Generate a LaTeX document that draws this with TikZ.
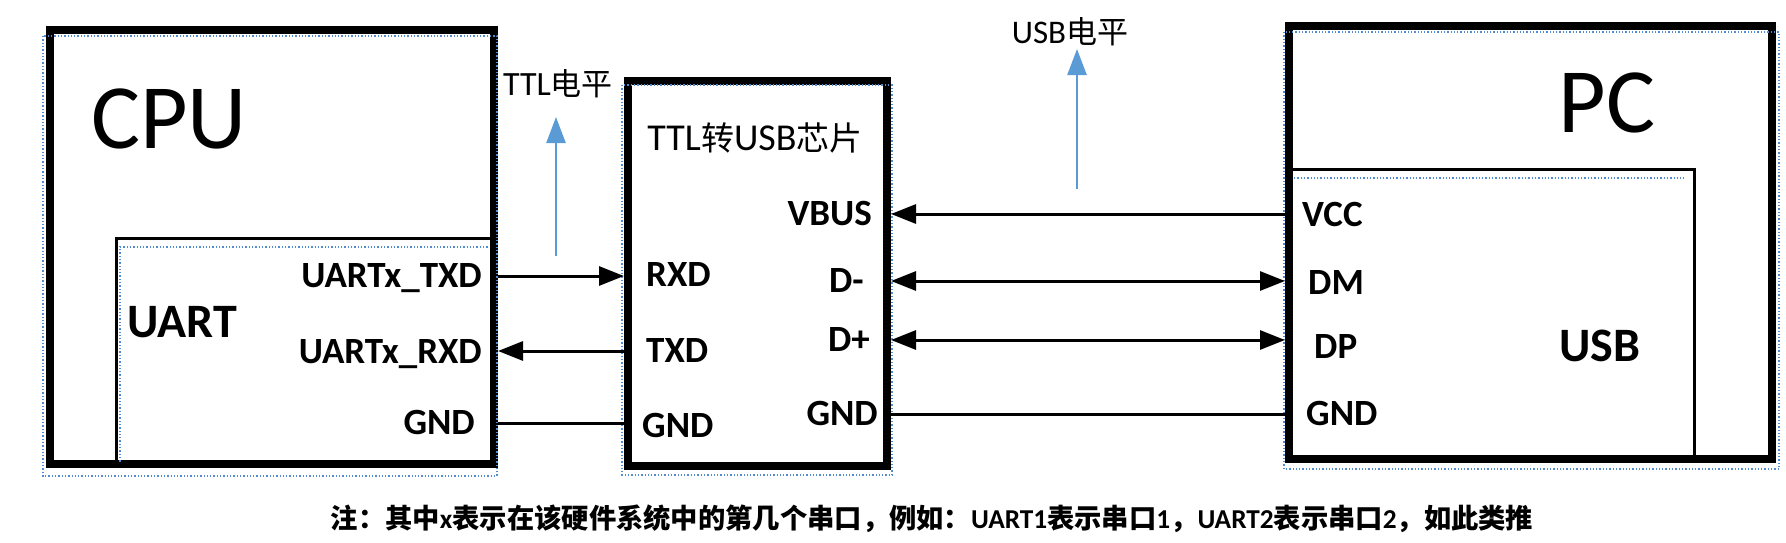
\documentclass[tikz,border=0pt]{standalone}
\usepackage{fontspec}
\setmainfont{Carlito}
\newfontfamily\cjk{Noto Sans CJK SC}
\usetikzlibrary{arrows.meta,positioning}
\definecolor{levelblue}{RGB}{91,155,213}
\definecolor{ghostblue}{RGB}{80,140,210}
\newcommand\zh[2][]{{\cjk #1#2}}
\newcommand\fs[1]{\fontsize{#1}{#1}\selectfont}

\begin{document}
\begin{tikzpicture}[x=1pt,y=-1pt,
  box/.style={draw,line width=8pt,anchor=north west,inner sep=0pt},
  subbox/.style={draw,line width=2.5pt,anchor=north west,inner sep=0pt},
  pin/.style={font=\bfseries\fs{37},inner sep=0pt,text height=23pt,text depth=0pt},
  wire/.style={line width=3pt},
  head/.tip={Triangle[width=19pt,length=25pt]},
  level/.style={draw=levelblue,line width=2.5pt,-{Triangle[width=19pt,length=26pt]}},
  ghost/.style={draw=ghostblue,dotted,line width=1.3pt}]
\useasboundingbox (0,0) rectangle (1786,542);

% boxes
\node[subbox,minimum width=378pt,minimum height=226pt] (uart) at (115,237) {};
\node[subbox,minimum width=405pt,minimum height=290pt] (usb) at (1288,168) {};
\node[box,minimum width=444pt,minimum height=434pt] (cpu) at (46,26) {};
\node[box,minimum width=259pt,minimum height=385pt] (chip) at (624,77) {};
\node[box,minimum width=483pt,minimum height=433pt] (pc) at (1285,22) {};

% dotted outlines
\draw[ghost] ([shift={(-3,10)}]cpu.north west) rectangle ([shift={(-1,8)}]cpu.south east);
\draw[ghost] ([shift={(-2,8)}]chip.north west) rectangle ([shift={(1,5)}]chip.south east);
\draw[ghost] ([shift={(-1,10)}]pc.north west) rectangle ([shift={(3,6)}]pc.south east);
\draw[ghost] ([shift={(5,-4)}]uart.south west) -- ([shift={(5,10)}]uart.north west) -- ([shift={(-6,10)}]uart.north east);
\draw[ghost] ([shift={(6,10)}]usb.north west) -- ([shift={(-12,10)}]usb.north east);

% titles
\node[font=\fs{92},inner sep=0pt] (cputitle) at (169,119) {CPU};
\node[font=\fs{92},inner sep=0pt] (pctitle) at (1607,103) {PC};
\node[font=\bfseries\fs{48},inner sep=0pt] (uarttitle) at (182,322) {UART};
\node[font=\bfseries\fs{48},inner sep=0pt] (usbtitle) at (1600,346) {USB};
\node[font=\fs{38},inner sep=0pt] (chiptitle) at (755,138)
  {TTL\zh[\fs{33}]{转}USB\zh[\fs{33}]{芯片}};

% pins
\node[pin,anchor=east] (utx) at (482,276) {UARTx\_TXD};
\node[pin,anchor=east] (urx) at (482,352) {UARTx\_RXD};
\node[pin,anchor=east] (ugnd) at (475,423) {GND};
\node[pin,anchor=west] (rxd) at (646,275) {RXD};
\node[pin,anchor=west] (txd) at (646,351) {TXD};
\node[pin,anchor=west] (cgnd) at (642,426) {GND};
\node[pin,anchor=east] (vbus) at (872,214) {VBUS};
\node[pin,anchor=east] (dminus) at (864,281) {D-};
\node[pin,anchor=east] (dplus) at (870,340) {D+};
\node[pin,anchor=east] (bgnd) at (878,414) {GND};
\node[pin,anchor=west] (vcc) at (1302,215) {VCC};
\node[pin,anchor=west] (dm) at (1308,283) {DM};
\node[pin,anchor=west] (dp) at (1314,347) {DP};
\node[pin,anchor=west] (pgnd) at (1306,414) {GND};

% wires
\draw[wire,-head] (cpu.east |- utx) -- (chip.west |- utx);
\draw[wire,-head] (chip.west |- txd) -- (cpu.east |- txd);
\draw[wire] (cpu.east |- ugnd) -- (chip.west |- ugnd);
\draw[wire,-head] (pc.west |- vbus) -- (chip.east |- vbus);
\draw[wire,head-head] (chip.east |- dminus) -- (pc.west |- dminus);
\draw[wire,head-head] (chip.east |- dplus) -- (pc.west |- dplus);
\draw[wire] (chip.east |- bgnd) -- (pc.west |- bgnd);

% levels
\node[font=\fs{34},inner sep=0pt] (ttllevel) at (558,84) {TTL\zh[\fs{31}]{电平}};
\node[font=\fs{33},inner sep=0pt] (usblevel) at (1070,32) {USB\zh[\fs{31}]{电平}};
\coordinate (ttlfoot) at (556,256);
\coordinate (ttltop) at (556,117);
\coordinate (usbfoot) at (1077,189);
\coordinate (usbtop) at (1077,49);
\draw[level] (ttlfoot) -- (ttltop);
\draw[level] (usbfoot) -- (usbtop);

% note
\node[font=\bfseries\fs{27.3},inner sep=0pt] (note) at (932,519)
  {\zh{注：其中}x\zh{表示在该硬件系统中的第几个串口，例如：}UART1\zh{表示串口}1\zh{，}UART2\zh{表示串口}2\zh{，如此类推}};
\end{tikzpicture}
\end{document}
